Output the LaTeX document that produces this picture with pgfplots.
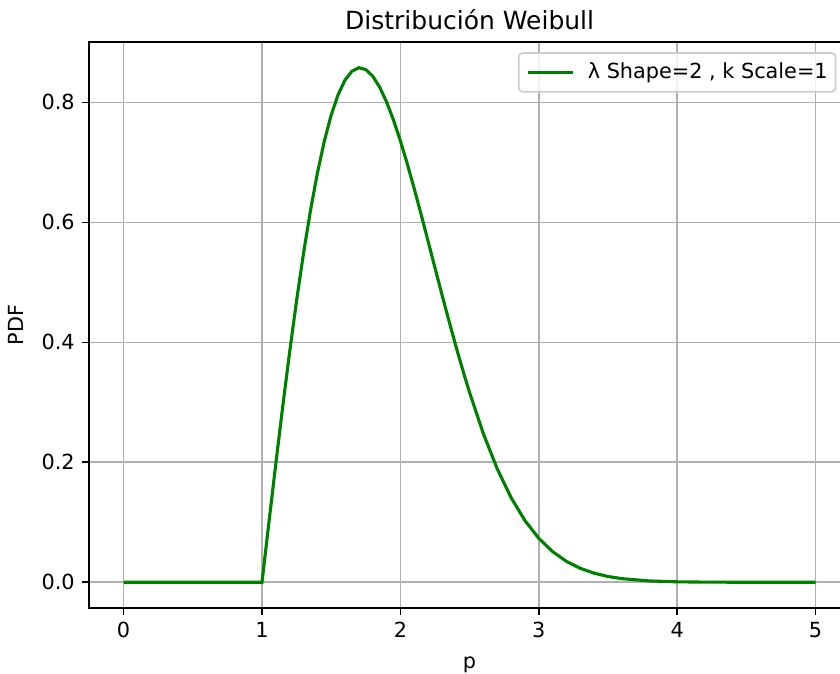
\documentclass[border=0pt]{standalone}
\usepackage{fontspec}
\setmainfont{DejaVu Sans}
\usepackage{pgfplots}
\pgfplotsset{compat=1.18}

\definecolor{mplgreen}{HTML}{008000}
\definecolor{gridgray}{HTML}{B0B0B0}

\begin{document}
\begin{tikzpicture}
\begin{axis}[
    scale only axis,
    width=380.6pt, height=283pt,
    xmin=-0.25, xmax=5.25,
    ymin=-0.0429, ymax=0.9006,
    xtick={0,1,2,3,4,5},
    ytick={0,0.2,0.4,0.6,0.8},
    /pgf/number format/assume math mode=true,
    yticklabel style={/pgf/number format/fixed, /pgf/number format/fixed zerofill, /pgf/number format/precision=1},
    ticklabel style={font=\fontsize{10.4}{12.5}\selectfont},
    tick align=outside,
    tick pos=left,
    major tick length=3.65pt,
    every tick/.style={black, line width=0.8pt},
    axis line style={line width=0.8pt},
    grid=major,
    major grid style={gridgray, line width=0.8pt},
    every axis title shift=0pt,
    title={Distribución Weibull},
    title style={font=\fontsize{12.5}{15}\selectfont, at={(axis description cs:0.5,1)}, anchor=base, yshift=6.5pt},
    xlabel={p},
    xlabel style={font=\fontsize{10.4}{12.5}\selectfont, at={(axis description cs:0.5,0)}, anchor=base, yshift=-30pt},
    ylabel={PDF},
    ylabel style={font=\fontsize{10.4}{12.5}\selectfont, at={(axis description cs:-0.0854,0.5)}, anchor=base},
    legend style={at={(0.982,0.982)}, anchor=north east, draw=gray!40, line width=0.8pt, rounded corners=2pt,
        fill=white, fill opacity=0.8, text opacity=1, font=\fontsize{10.4}{12.5}\selectfont,
        inner xsep=4pt, inner ysep=3pt, column sep=6.5pt, nodes={inner xsep=0pt, inner ysep=2pt}},
    legend image code/.code={\draw[#1] (0pt,0pt) -- (22.5pt,0pt);},
    legend cell align=left,
]
\addplot[mplgreen, line width=1.56pt] coordinates {
    (0,0) (0.5,0) (1,0)
    (1.05,0.09975) (1.10,0.19801) (1.15,0.29332) (1.20,0.38432) (1.25,0.46970)
    (1.30,0.54836) (1.35,0.61930) (1.40,0.68171) (1.45,0.73502) (1.50,0.77880)
    (1.55,0.81287) (1.60,0.83722) (1.65,0.85203) (1.70,0.85768) (1.75,0.85467)
    (1.80,0.84366) (1.85,0.82542) (1.90,0.80074) (1.95,0.77054) (2.00,0.73576)
    (2.05,0.69728) (2.10,0.65604) (2.15,0.61290) (2.20,0.56863) (2.25,0.52402)
    (2.30,0.47975) (2.35,0.43640) (2.40,0.39441) (2.45,0.35421) (2.50,0.31620)
    (2.60,0.24736) (2.70,0.18897) (2.80,0.14098) (2.90,0.10278) (3.00,0.07326)
    (3.10,0.05105) (3.20,0.03479) (3.30,0.02319) (3.40,0.01513) (3.50,0.00965)
    (3.60,0.00603) (3.80,0.00220) (4.00,0.00074) (4.20,0.00023) (4.50,0.00003)
    (5.00,0)
};
\addlegendentry{λ Shape=2 , k Scale=1}
\end{axis}
\pgfresetboundingbox
\path[use as bounding box] (-44.5pt,-33pt) rectangle (375.5pt,304pt);
\end{tikzpicture}
\end{document}
